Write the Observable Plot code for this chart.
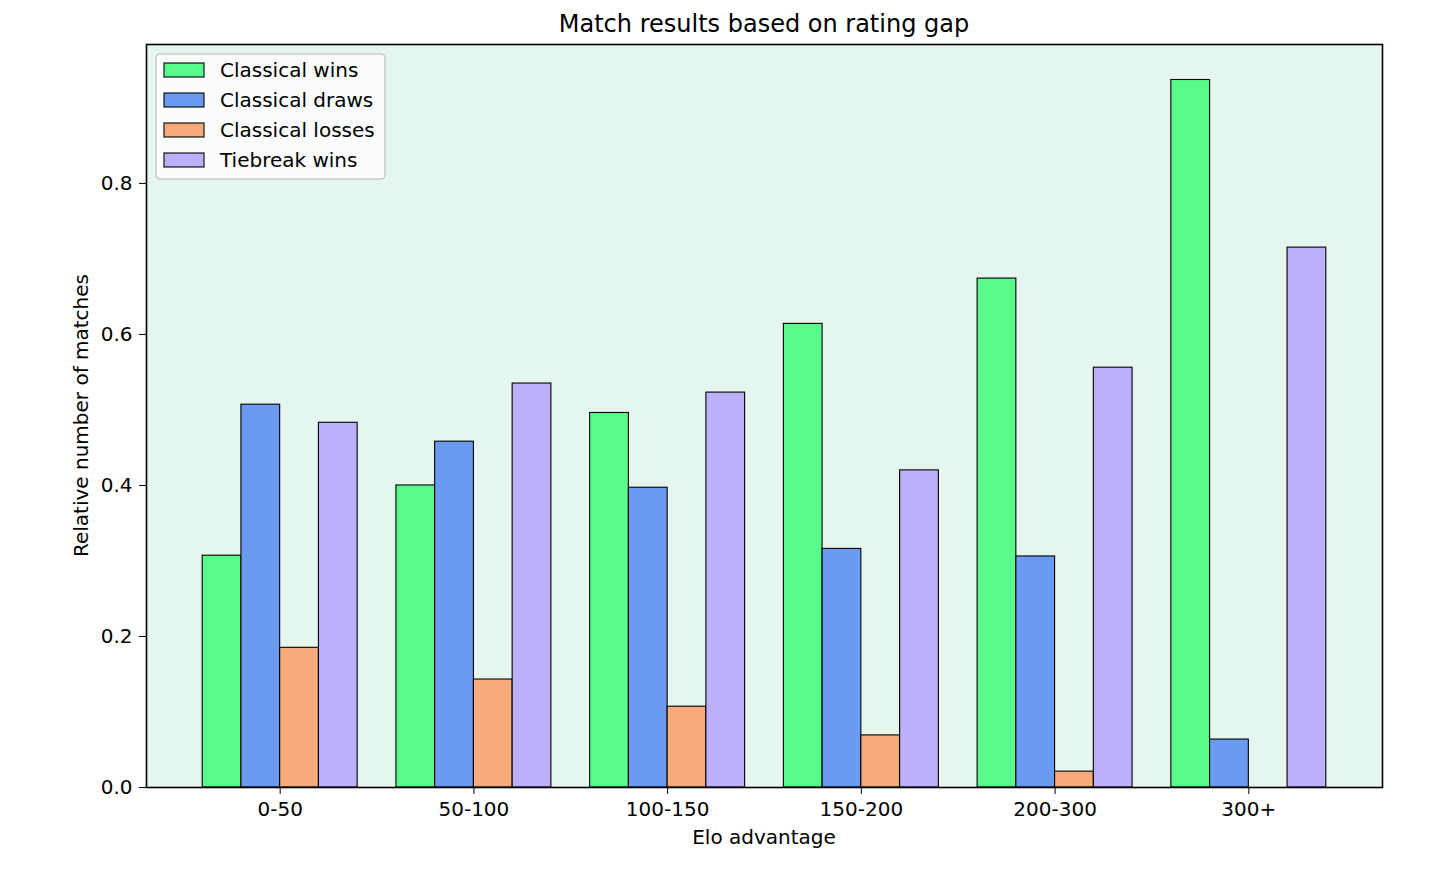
<!DOCTYPE html>
<html>
<head>
<meta charset="utf-8">
<script src="https://cdn.jsdelivr.net/npm/d3@7"></script>
<script src="https://cdn.jsdelivr.net/npm/@observablehq/plot@0.6"></script>
<style>
  html, body { margin: 0; padding: 0; background: #ffffff; }
  #chart { width: 1456px; height: 874px; }
</style>
</head>
<body>
<div id="chart"></div>
<script>
const groups = ["0-50", "50-100", "100-150", "150-200", "200-300", "300+"];
const seriesNames = ["Classical wins", "Classical draws", "Classical losses", "Tiebreak wins"];
const classicalWins = [0.307, 0.400, 0.496, 0.614, 0.674, 0.937];
const classicalDraws = [0.507, 0.458, 0.397, 0.316, 0.306, 0.0635];
const classicalLosses = [0.185, 0.143, 0.107, 0.069, 0.021, 0.0];
const tiebreakWins = [0.483, 0.535, 0.523, 0.420, 0.556, 0.715];
const yTicks = [0, 0.2, 0.4, 0.6, 0.8];
const colors = ["#5afa8a", "#6b9bf0", "#f7aa7a", "#bdb0fa"];

const seriesValues = [classicalWins, classicalDraws, classicalLosses, tiebreakWins];
const data = groups.flatMap((g, gi) =>
  seriesValues.map((vals, si) => ({group: g, gi, si, series: seriesNames[si], value: vals[gi]}))
);
const barWidth = 0.2;
const n = seriesNames.length;

const W = 1456, H = 874;
const margin = {top: 44, right: 74, bottom: 87, left: 146};
const font = "'DejaVu Sans', sans-serif";

const plot = Plot.plot({
  width: W,
  height: H,
  marginTop: margin.top,
  marginRight: margin.right,
  marginBottom: margin.bottom,
  marginLeft: margin.left,
  style: {fontFamily: font, fontSize: "20px", color: "#000", background: "#fff", overflow: "visible"},
  x: {
    domain: [-0.69, 5.69],
    ticks: groups.map((g, i) => i),
    tickFormat: i => groups[i],
    tickSize: 7,
    tickPadding: 7,
    label: null
  },
  y: {
    domain: [0, 0.984],
    ticks: yTicks,
    tickFormat: d3.format(".1f"),
    tickSize: 7,
    tickPadding: 7,
    label: null
  },
  color: {domain: seriesNames, range: colors},
  marks: [
    Plot.frame({fill: "#e5f6ef"}),
    Plot.rectY(data, {
      x1: d => d.gi + (d.si - n / 2) * barWidth,
      x2: d => d.gi + (d.si - n / 2 + 1) * barWidth,
      y1: 0,
      y2: "value",
      fill: "series",
      stroke: "#000",
      strokeWidth: 1.1
    }),
    Plot.frame({stroke: "#000", strokeWidth: 1.6})
  ]
});

document.getElementById("chart").appendChild(plot);

const svg = d3.select(plot.tagName.toLowerCase() === "svg" ? plot : plot.querySelector("svg"));
const cx = margin.left + (W - margin.left - margin.right) / 2;
const cy = margin.top + (H - margin.top - margin.bottom) / 2;

// Title
svg.append("text")
  .attr("x", cx)
  .attr("y", margin.top - 12)
  .attr("text-anchor", "middle")
  .attr("font-family", font)
  .attr("font-size", 24)
  .attr("fill", "#000")
  .text("Match results based on rating gap");

// Axis labels
svg.append("text")
  .attr("x", cx)
  .attr("y", 837)
  .attr("dy", "0.35em")
  .attr("text-anchor", "middle")
  .attr("font-family", font)
  .attr("font-size", 20)
  .attr("fill", "#000")
  .text("Elo advantage");
svg.append("text")
  .attr("transform", `translate(81,${cy}) rotate(-90)`)
  .attr("dy", "0.35em")
  .attr("text-anchor", "middle")
  .attr("font-family", font)
  .attr("font-size", 20)
  .attr("fill", "#000")
  .text("Relative number of matches");

// Legend
const lg = svg.append("g").attr("transform", `translate(${margin.left + 10},${margin.top + 10})`);
lg.append("rect")
  .attr("x", 0).attr("y", 0)
  .attr("width", 229).attr("height", 125)
  .attr("rx", 4).attr("ry", 4)
  .attr("fill", "#ffffff").attr("fill-opacity", 0.8)
  .attr("stroke", "#cccccc").attr("stroke-width", 1.6);
seriesNames.forEach((name, i) => {
  const ly = 16 + i * 30;
  lg.append("rect")
    .attr("x", 8).attr("y", ly - 7)
    .attr("width", 40).attr("height", 14)
    .attr("fill", colors[i]).attr("stroke", "#000").attr("stroke-width", 1.1);
  lg.append("text")
    .attr("x", 64).attr("y", ly)
    .attr("dy", "0.35em")
    .attr("text-anchor", "start")
    .attr("font-family", font)
    .attr("font-size", 20)
    .attr("fill", "#000")
    .text(name);
});
</script>
</body>
</html>
